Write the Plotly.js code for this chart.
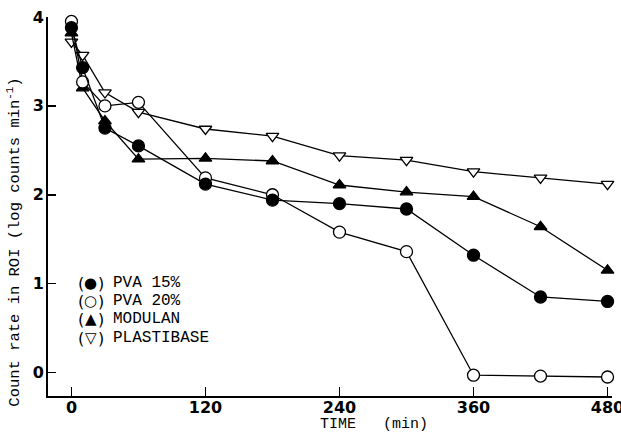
<!DOCTYPE html>
<html>
<head>
<meta charset="utf-8">
<script src="https://cdn.plot.ly/plotly-3.0.1.min.js"></script>
<style>html,body{margin:0;padding:0;background:#fff;}#chart{width:621px;height:436px;}</style>
</head>
<body>
<div id="chart"></div>
<script>
const time = [0, 10, 30, 60, 120, 180, 240, 300, 360, 420, 480];
const pva15 = [3.88, 3.43, 2.75, 2.55, 2.12, 1.94, 1.90, 1.84, 1.32, 0.85, 0.80];
const pva20 = [3.95, 3.27, 3.00, 3.04, 2.19, 2.00, 1.58, 1.36, -0.03, -0.04, -0.05];
const modulan = [3.82, 3.20, 2.83, 2.40, 2.41, 2.38, 2.11, 2.03, 1.98, 1.64, 1.15];
const plastibase = [3.72, 3.57, 3.15, 2.93, 2.74, 2.66, 2.44, 2.39, 2.26, 2.19, 2.12];
const seriesNames = ["PVA 15%", "PVA 20%", "MODULAN", "PLASTIBASE"];
const legendSymbols = ["\u25CF", "\u25CB", "\u25B2", "\u25BD"];
const xTicks = [0, 120, 240, 360, 480];
const yTicks = [0, 1, 2, 3, 4];

function trace(y, name, symbol, fill) {
  return {
    x: time, y: y, name: name, type: "scatter", mode: "lines+markers",
    line: {color: "#000", width: 1.3},
    marker: {symbol: symbol, size: symbol === "circle" ? 12 : 11, color: fill,
             line: {color: "#000", width: 1.3}},
    cliponaxis: false
  };
}
const data = [
  trace(plastibase, seriesNames[3], "triangle-down", "#fff"),
  trace(modulan, seriesNames[2], "triangle-up", "#000"),
  trace(pva20, seriesNames[1], "circle", "#fff"),
  trace(pva15, seriesNames[0], "circle", "#000")
];

const mono = "Liberation Mono, Courier New, monospace";
const sans = "DejaVu Sans, sans-serif";
const annotations = [];
const legY = [0.298, 0.250, 0.203, 0.153];
function px(x) { return (x - 48) / 564; }
seriesNames.forEach((n, i) => {
  annotations.push({xref: "paper", yref: "paper", x: px(80.5), y: legY[i], xanchor: "center", yanchor: "middle",
    text: "(", showarrow: false, borderpad: 0, font: {family: sans, size: 16, color: "#000"}});
  annotations.push({xref: "paper", yref: "paper", x: px(90.5), y: legY[i], xanchor: "center", yanchor: "middle",
    text: legendSymbols[i], showarrow: false, borderpad: 0, font: {family: sans, size: 15, color: "#000"}});
  annotations.push({xref: "paper", yref: "paper", x: px(100.5), y: legY[i], xanchor: "center", yanchor: "middle",
    text: ")", showarrow: false, borderpad: 0, font: {family: sans, size: 16, color: "#000"}});
  annotations.push({xref: "paper", yref: "paper", x: px(111), y: legY[i], xanchor: "left", yanchor: "middle",
    text: n, showarrow: false, font: {family: mono, size: 16, color: "#000"}});
});
annotations.push({xref: "paper", yref: "paper", x: px(374), y: -0.074, xanchor: "center", yanchor: "middle",
  text: "TIME\u00a0\u00a0\u00a0(min)", showarrow: false, font: {family: mono, size: 15, color: "#000"}});
annotations.push({xref: "paper", yref: "paper", x: -0.06, y: 0.405, xanchor: "center", yanchor: "middle", textangle: -90,
  text: "Count rate in ROI (log counts min<sup>-1</sup>)", showarrow: false, font: {family: mono, size: 15.5, color: "#000"}});

const tickFont = {family: sans, size: 16, color: "#000", weight: "bold"};
const layout = {
  width: 621, height: 436,
  margin: {l: 48, r: 9, t: 16.5, b: 40},
  paper_bgcolor: "#fff", plot_bgcolor: "#fff",
  showlegend: false,
  xaxis: {range: [-21, 484], tickvals: xTicks, ticktext: xTicks.map(String), ticks: "inside", ticklen: 9, tickwidth: 1.5,
          tickcolor: "#000", showline: true, linecolor: "#000", linewidth: 2, showgrid: false, zeroline: false,
          ticklabelstandoff: -4, ticklabeloverflow: "allow", automargin: false, tickfont: tickFont},
  yaxis: {range: [-0.264, 4.0], tickvals: yTicks, ticktext: yTicks.map(String), ticks: "inside", ticklen: 8, tickwidth: 1.5,
          tickcolor: "#000", showline: true, linecolor: "#000", linewidth: 2, showgrid: false, zeroline: false,
          ticklabelstandoff: -1, ticklabeloverflow: "allow", automargin: false, tickfont: tickFont},
  annotations: annotations
};
Plotly.newPlot("chart", data, layout, {displayModeBar: false, staticPlot: true});
</script>
</body>
</html>
